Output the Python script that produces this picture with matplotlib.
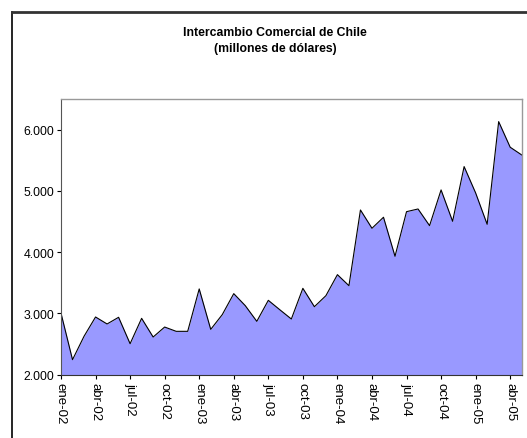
import numpy as np
import matplotlib
matplotlib.use("Agg")
import matplotlib.pyplot as plt
from matplotlib.lines import Line2D

plt.rcParams['font.family'] = ['Liberation Sans', 'DejaVu Sans']

# monthly values ene-02 .. may-05 (millones de dolares)
meses = ["ene", "feb", "mar", "abr", "may", "jun", "jul", "ago", "sep", "oct", "nov", "dic"]
anios = ["02", "03", "04", "05"]
valores = [3005, 2245, 2627, 2942, 2828, 2937, 2506, 2920, 2615, 2778, 2708, 2708,
           3400, 2740, 2980, 3323, 3127, 2871, 3214, 3060, 2909, 3410, 3110, 3290,
           3633, 3453, 4689, 4390, 4570, 3933, 4661, 4705, 4433, 5016, 4504, 5397,
           4967, 4455, 6131, 5713, 5587]
etiquetas = [m + "-" + a for a in anios for m in meses][:len(valores)]
y_ticks = [2000, 3000, 4000, 5000, 6000]
y_labels = ["2.000", "3.000", "4.000", "5.000", "6.000"]

W, H = 527, 439
fig = plt.figure(figsize=(W / 100, H / 100), dpi=100)

# chart border (only left and top visible)
fig.add_artist(Line2D([11.5 / W, 11.5 / W], [0, 1 - 13 / H], color="black", lw=1.2))
fig.add_artist(Line2D([11.5 / W, 1], [1 - 13 / H, 1 - 13 / H], color="#333333", lw=2))

left, right = 61 / W, 521.7 / W
bottom, top = 1 - 375.7 / H, 1 - 100 / H
ax = fig.add_axes([left, bottom, right - left, top - bottom])

x = np.arange(len(valores))
ax.fill_between(x, valores, 2000, color="#9999FF", lw=0)
ax.plot(x, valores, color="black", lw=0.8)

ax.set_xlim(0, len(valores) - 1)
ax.set_ylim(2000, 6500)
ax.set_yticks(y_ticks)
ax.set_yticklabels(y_labels, fontsize=8.8)
ax.set_xticks(x[::3])
ax.set_xticklabels(etiquetas[::3], rotation=-90, fontsize=9.5)
ax.tick_params(axis="both", direction="out", length=3, width=0.8, color="black", pad=2)

for s in ["top", "right"]:
    ax.spines[s].set_color("#999999")
    ax.spines[s].set_linewidth(1)
ax.spines["left"].set_color("#555555")
ax.spines["bottom"].set_color("#333333")

fig.text(275 / W, 1 - 33 / H, "Intercambio Comercial de Chile", ha="center", va="center",
         fontsize=8.8, fontweight="bold")
fig.text(275 / W, 1 - 49 / H, "(millones de dólares)", ha="center", va="center",
         fontsize=8.8, fontweight="bold")

fig.savefig("out.png", dpi=100)
